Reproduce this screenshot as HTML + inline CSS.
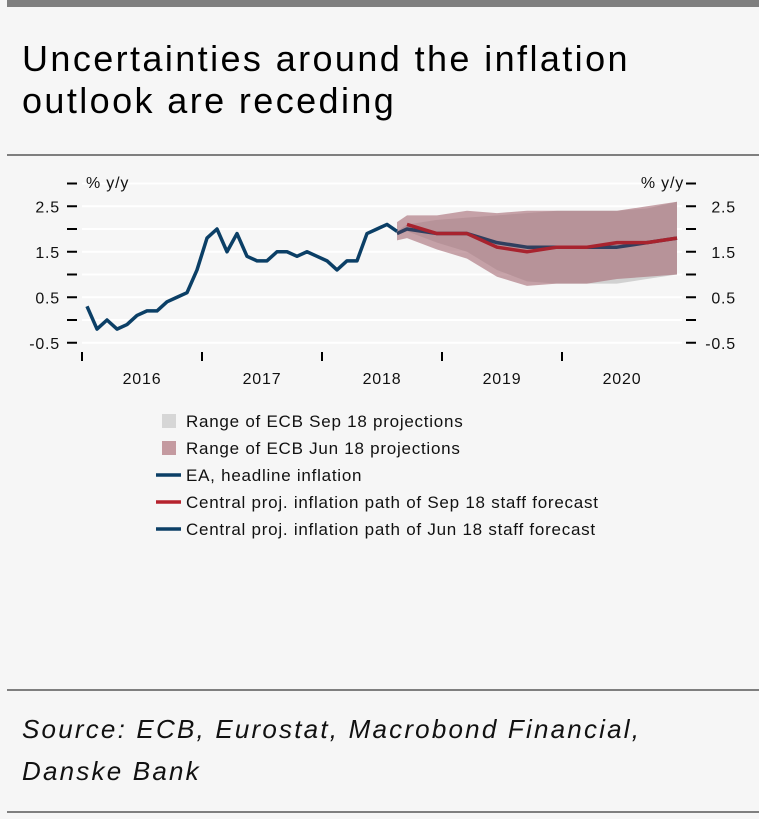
<!DOCTYPE html>
<html><head><meta charset="utf-8"><style>
body{margin:0;background:#fff;}
#wrap{position:relative;width:759px;height:819px;background:#f6f6f6;font-family:"Liberation Sans",sans-serif;overflow:hidden}
.hr{position:absolute;left:7px;right:0;background:#7f7f7f}
#title{position:absolute;left:22px;top:38px;font-size:36px;line-height:42px;color:#000;letter-spacing:2.4px}
#source{position:absolute;left:22px;top:708px;font-size:26px;line-height:42px;font-style:italic;color:#111;letter-spacing:2.2px}
svg text{font-family:"Liberation Sans",sans-serif;letter-spacing:0.8px}
</style></head><body>
<div id="wrap">
<div class="hr" style="top:0;height:7px"></div>
<div id="title">Uncertainties around the inflation<br>outlook are receding</div>
<div class="hr" style="top:154px;height:2px"></div>
<svg id="chart" width="759" height="560" style="position:absolute;left:0;top:0"></svg>
<div class="hr" style="top:689px;height:2px"></div>
<div id="source">Source: ECB, Eurostat, Macrobond Financial,<br>Danske Bank</div>
<div class="hr" style="top:811px;height:2px"></div>
</div>
<script>
const headline=[0.3,-0.2,0.0,-0.2,-0.1,0.1,0.2,0.2,0.4,0.5,0.6,1.1,1.8,2.0,1.5,1.9,1.4,1.3,1.3,1.5,1.5,1.4,1.5,1.4,1.3,1.1,1.3,1.3,1.9,2.0,2.1,1.95];
const projMonths=[31,32,35,38,41,44,47,50,53,56,59];
const jun18Central=[1.9,2.0,1.9,1.9,1.7,1.6,1.6,1.6,1.6,1.7,1.8];
const sep18Central=[null,2.1,1.9,1.9,1.6,1.5,1.6,1.6,1.7,1.7,1.8];
const jun18Upper=[2.15,2.3,2.3,2.4,2.35,2.4,2.4,2.4,2.4,2.5,2.6];
const jun18Lower=[1.75,1.8,1.55,1.35,0.95,0.75,0.8,0.8,0.9,0.95,1.0];
const sep18Upper=[1.95,2.1,2.2,2.25,2.3,2.35,2.4,2.4,2.4,2.45,2.6];
const sep18Lower=[1.95,1.95,1.7,1.5,1.1,0.85,0.8,0.8,0.8,0.9,1.0];
const yTicks=[3.0,2.5,2.0,1.5,1.0,0.5,0.0,-0.5];
const yLabels=["2.5","1.5","0.5","-0.5"];
const yearLabels=["2016","2017","2018","2019","2020"];

const NS="http://www.w3.org/2000/svg";
const svg=document.getElementById('chart');
const X=m=>87+m*10;
const Y=v=>320-v*45.5;
function mk(t,a){const e=document.createElementNS(NS,t);for(const k in a)e.setAttribute(k,a[k]);svg.appendChild(e);return e;}
yTicks.forEach(v=>{
  const g=mk('line',{x1:82,x2:682,y1:Y(v),y2:Y(v),stroke:'#ffffff','stroke-width':2});
  
  
  const tl=mk('line',{x1:67,x2:77,y1:Y(v),y2:Y(v),stroke:'#000','stroke-width':2});
  
  
  const tr=mk('line',{x1:686,x2:696,y1:Y(v),y2:Y(v),stroke:'#000','stroke-width':2});
  
  
});
yLabels.forEach(s=>{
  const v=parseFloat(s);
  const l=mk('text',{x:60,y:Y(v)+6,'text-anchor':'end','font-size':16,fill:'#111'});l.textContent=s;
  
  
  const r=mk('text',{x:736,y:Y(v)+6,'text-anchor':'end','font-size':16,fill:'#111'});r.textContent=s;
  
  
});
let t=mk('text',{x:86,y:188,'font-size':16,fill:'#111'});t.textContent='% y/y';


t=mk('text',{x:684,y:188,'text-anchor':'end','font-size':16,fill:'#111'});t.textContent='% y/y';


yearLabels.forEach((s,i)=>{
  const x0=82+i*120;
  const tk=mk('line',{x1:x0,x2:x0,y1:352,y2:361,stroke:'#000','stroke-width':2});
  
  
  const l=mk('text',{x:x0+60,y:384,'text-anchor':'middle','font-size':16,fill:'#111'});l.textContent=s;
  
  
});
function band(up,lo,fill,name){
  let d='';
  up.forEach((v,i)=>{d+=(i?'L':'M')+X(projMonths[i])+' '+Y(v);});
  for(let i=lo.length-1;i>=0;i--)d+='L'+X(projMonths[i])+' '+Y(lo[i]);
  const p=mk('path',{d:d+'Z',fill:fill});
  
  
}
band(sep18Upper,sep18Lower,'rgba(200,200,200,0.8)','sep18-range-band');
band(jun18Upper,jun18Lower,'rgba(165,105,115,0.6)','jun18-range-band');
function line(xs,vals,col,name){
  const pts=[];vals.forEach((v,i)=>{if(v!==null)pts.push(X(xs[i])+','+Y(v));});
  const p=mk('polyline',{points:pts.join(' '),fill:'none',stroke:col,'stroke-width':3.5,'stroke-linejoin':'round'});
  
  
}
line(headline.map((_,i)=>i),headline,'#0b3f66','headline-inflation-line');
line(projMonths,jun18Central,'#2f3f5f','jun18-central-line');
line(projMonths,sep18Central,'#a8232e','sep18-central-line');
const leg=[['rect','#d6d6d6','Range of ECB Sep 18 projections','legend-sep18-range'],
['rect','#c49aa0','Range of ECB Jun 18 projections','legend-jun18-range'],
['line','#0b3f66','EA, headline inflation','legend-headline'],
['line','#b5222d','Central proj. inflation path of Sep 18 staff forecast','legend-sep18-central'],
['line','#0b3f66','Central proj. inflation path of Jun 18 staff forecast','legend-jun18-central']];
leg.forEach((e,i)=>{
  const cy=421+i*27;
  let s;
  if(e[0]==='rect')s=mk('rect',{x:162,y:cy-7,width:14,height:14,fill:e[1]});
  else s=mk('line',{x1:156,x2:181,y1:cy,y2:cy,stroke:e[1],'stroke-width':3.5});
  
  
  const l=mk('text',{x:186,y:cy+6,'font-size':17,fill:'#111',style:'letter-spacing:0.75px'});l.textContent=e[2];
  
  
});
</script>
</body></html>
